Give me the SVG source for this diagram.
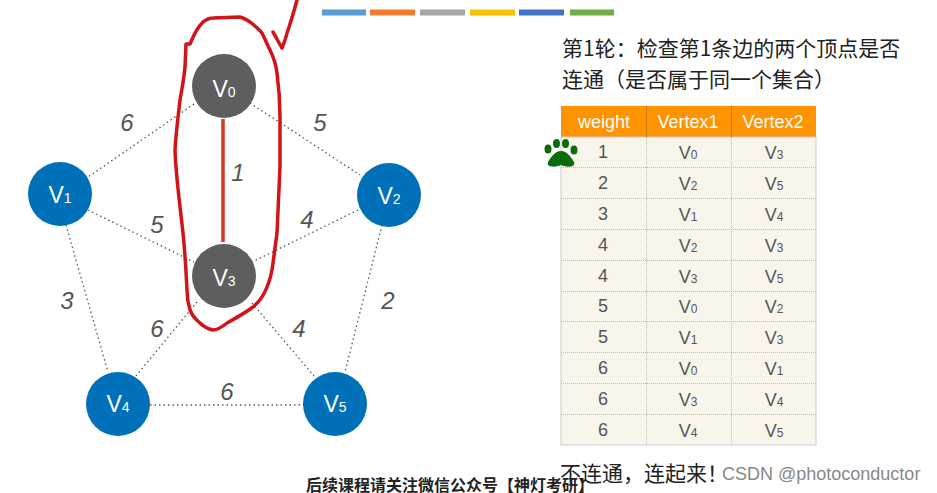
<svg xmlns="http://www.w3.org/2000/svg" width="937" height="493" viewBox="0 0 937 493">
<style>
text{font-family:"Liberation Sans","Noto Sans CJK SC",sans-serif}
.e{stroke:#555;stroke-width:1.3;stroke-dasharray:1.5 3;fill:none}
.w{font-size:24px;font-style:italic;fill:#555;text-anchor:middle}
.nb{fill:#0070b8}.ng{fill:#5e5e5e}
.nl{font-size:23px;fill:#fff;text-anchor:middle}
.ns{font-size:14px}
.c{font-size:18px;fill:#555;text-anchor:middle}
.s{font-size:12px}
.h{font-size:18px;fill:#fff;text-anchor:middle}
.cn{font-size:21px;fill:#222;font-family:"Noto Sans CJK SC","Liberation Sans",sans-serif}
.grid{stroke:#bbb;stroke-width:1;stroke-dasharray:1 1}
</style>
<rect width="937" height="493" fill="#fff"/>
<g id="bars">
<rect x="322" y="9.500" width="44" height="6" fill="#5b9bd5"/>
<rect x="370" y="9.500" width="45" height="6" fill="#ed7d31"/>
<rect x="420" y="9.500" width="45" height="6" fill="#a5a5a5"/>
<rect x="470" y="9.500" width="45" height="6" fill="#ffc000"/>
<rect x="519" y="9.500" width="45" height="6" fill="#4472c4"/>
<rect x="570" y="9.500" width="44" height="6" fill="#70ad47"/>
</g>
<g id="connectors">
<path class="e" d="M194 104L88 177"/>
<path class="e" d="M250 103L360 175"/>
<path class="e" d="M88 210L194 262"/>
<path class="e" d="M358 210L252 262"/>
<path class="e" d="M66 225L108 372"/>
<path class="e" d="M382 225L345 372"/>
<path class="e" d="M197 302L136 376"/>
<path class="e" d="M252 303L314 376"/>
<path class="e" d="M150 405L304 405"/>
<path d="M223 119L223 242" stroke="#d8381c" stroke-width="3.500" fill="none"/>
</g>
<g id="weights">
<text class="w" x="127" y="131">6</text>
<text class="w" x="320" y="131">5</text>
<text class="w" x="238" y="181">1</text>
<text class="w" x="157" y="233">5</text>
<text class="w" x="307" y="228">4</text>
<text class="w" x="67" y="309">3</text>
<text class="w" x="388" y="309">2</text>
<text class="w" x="157" y="337">6</text>
<text class="w" x="299" y="337">4</text>
<text class="w" x="227" y="400">6</text>
</g>
<g id="v0"><circle class="ng" cx="224" cy="86" r="32"/><text class="nl" x="224" y="97">V<tspan class="ns">0</tspan></text></g>
<g id="v1"><circle class="nb" cx="60" cy="194" r="32"/><text class="nl" x="60" y="203">V<tspan class="ns">1</tspan></text></g>
<g id="v2"><circle class="nb" cx="389" cy="195" r="32"/><text class="nl" x="389" y="204">V<tspan class="ns">2</tspan></text></g>
<g id="v3"><circle class="ng" cx="224" cy="276" r="32"/><text class="nl" x="224" y="286">V<tspan class="ns">3</tspan></text></g>
<g id="v4"><circle class="nb" cx="118" cy="404" r="32"/><text class="nl" x="118" y="412">V<tspan class="ns">4</tspan></text></g>
<g id="v5"><circle class="nb" cx="335" cy="404" r="32"/><text class="nl" x="335" y="412">V<tspan class="ns">5</tspan></text></g>
<g id="table">
<rect x="561" y="106" width="255" height="31" fill="#ff9400"/>
<rect x="561" y="137" width="255" height="308" fill="#f9f5ea" stroke="#ccc"/>
<path stroke="#c07a10" d="M646.500 106V137M731.500 106V137"/>
<path class="grid" d="M646.500 137V445M731.500 137V445M561 167.500H816M561 198.500H816M561 229.500H816M561 260.500H816M561 291.500H816M561 321.500H816M561 352.500H816M561 383.500H816M561 414.500H816"/>
<text class="h" x="604" y="128">weight</text><text class="h" x="688" y="128">Vertex1</text><text class="h" x="773" y="128">Vertex2</text>
<text class="c" x="603" y="158">1</text><text class="c" x="688" y="159">V<tspan class="s">0</tspan></text><text class="c" x="774" y="159">V<tspan class="s">3</tspan></text>
<text class="c" x="603" y="189">2</text><text class="c" x="688" y="190">V<tspan class="s">2</tspan></text><text class="c" x="774" y="190">V<tspan class="s">5</tspan></text>
<text class="c" x="603" y="220">3</text><text class="c" x="688" y="221">V<tspan class="s">1</tspan></text><text class="c" x="774" y="221">V<tspan class="s">4</tspan></text>
<text class="c" x="603" y="251">4</text><text class="c" x="688" y="252">V<tspan class="s">2</tspan></text><text class="c" x="774" y="252">V<tspan class="s">3</tspan></text>
<text class="c" x="603" y="282">4</text><text class="c" x="688" y="283">V<tspan class="s">3</tspan></text><text class="c" x="774" y="283">V<tspan class="s">5</tspan></text>
<text class="c" x="603" y="312">5</text><text class="c" x="688" y="313">V<tspan class="s">0</tspan></text><text class="c" x="774" y="313">V<tspan class="s">2</tspan></text>
<text class="c" x="603" y="343">5</text><text class="c" x="688" y="344">V<tspan class="s">1</tspan></text><text class="c" x="774" y="344">V<tspan class="s">3</tspan></text>
<text class="c" x="603" y="374">6</text><text class="c" x="688" y="375">V<tspan class="s">0</tspan></text><text class="c" x="774" y="375">V<tspan class="s">1</tspan></text>
<text class="c" x="603" y="405">6</text><text class="c" x="688" y="406">V<tspan class="s">3</tspan></text><text class="c" x="774" y="406">V<tspan class="s">4</tspan></text>
<text class="c" x="603" y="436">6</text><text class="c" x="688" y="437">V<tspan class="s">4</tspan></text><text class="c" x="774" y="437">V<tspan class="s">5</tspan></text>
</g>
<g id="paw" fill="#0a6b0a">
<ellipse cx="548" cy="149" rx="3.500" ry="4.500"/><ellipse cx="556.500" cy="143.500" rx="3.500" ry="4.500"/><ellipse cx="565.500" cy="143.500" rx="3.500" ry="4.500"/><ellipse cx="574" cy="150" rx="3.500" ry="4.500"/>
<path d="M561 151C555 151 551 157 548 162C546 167 554 168 561 165C568 168 576 167 574 162C571 157 567 151 561 151Z"/>
</g>
<g id="ink" fill="none" stroke="#d01418" stroke-width="3.500" stroke-linecap="round" stroke-linejoin="round">
<path d="M186 44L190 44C194 34 198 27 203 22C207 19 210 18 213 18L240 17C244 18 247 20 250 22C255 26 259 29 262 33C265 39 267 44 270 50C274 58 276 65 277 73C279 88 280 102 280 117L280 167L277 233L273 263C272 272 270 280 267 287C264 295 259 302 253 307C245 313 236 318 227 323C222 327 217 330 213 330C208 329 204 327 200 323C195 319 192 315 190 310C188 303 187 297 187 290C186 270 185 252 183 233C180 205 176 178 175 150C176 133 178 117 180 100C182 89 184 78 185 67Z"/>
<path d="M273 32C276 37 279 43 282 48C284 43 286 38 287 33C291 22 294 11 297 0"/>
</g>
<g id="captions">
<text class="cn" x="562" y="56">第1轮：检查第1条边的两个顶点是否</text>
<text class="cn" x="562" y="87">连通（是否属于同一个集合）</text>
<text class="cn" x="560" y="481">不连通，连起来！</text>
<text x="722" y="480" font-size="18" fill="#888">CSDN @photoconductor</text>
<text x="306" y="491" font-size="16" font-weight="bold" fill="#222" style="font-family:'Noto Sans CJK SC',sans-serif">后续课程请关注微信公众号【神灯考研】</text>
</g>
</svg>
